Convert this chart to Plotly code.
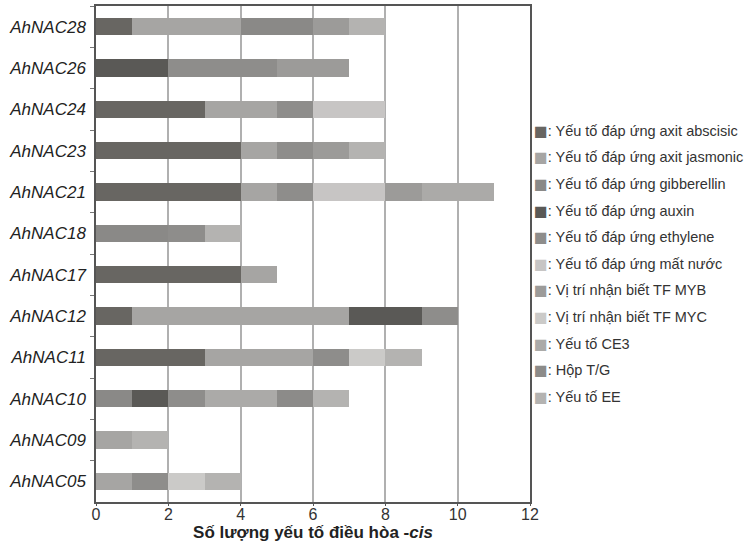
import plotly.graph_objects as go

genes = ["AhNAC28", "AhNAC26", "AhNAC24", "AhNAC23", "AhNAC21", "AhNAC18",
         "AhNAC17", "AhNAC12", "AhNAC11", "AhNAC10", "AhNAC09", "AhNAC05"]

categories = [
    "Yếu tố đáp ứng axit abscisic",
    "Yếu tố đáp ứng axit jasmonic",
    "Yếu tố đáp ứng gibberellin",
    "Yếu tố đáp ứng auxin",
    "Yếu tố đáp ứng ethylene",
    "Yếu tố đáp ứng mất nước",
    "Vị trí nhận biết TF MYB",
    "Vị trí nhận biết TF MYC",
    "Yếu tố CE3",
    "Hộp T/G",
    "Yếu tố EE",
]

abscisic    = [1, 0, 3, 4, 4, 0, 4, 1, 3, 0, 0, 0]
jasmonic    = [3, 0, 2, 1, 1, 0, 1, 6, 3, 0, 1, 1]
gibberellin = [2, 0, 0, 0, 0, 2, 0, 0, 0, 1, 0, 0]
auxin       = [0, 2, 0, 0, 0, 0, 0, 2, 0, 1, 0, 0]
ethylene    = [0, 3, 1, 1, 1, 1, 0, 1, 1, 1, 0, 1]
drought     = [0, 0, 2, 0, 2, 0, 0, 0, 0, 0, 0, 0]
myb         = [1, 2, 0, 1, 1, 0, 0, 0, 0, 0, 0, 0]
myc         = [0, 0, 0, 0, 0, 0, 0, 0, 1, 0, 0, 1]
ce3         = [0, 0, 0, 0, 2, 0, 0, 0, 0, 2, 0, 0]
tg_box      = [0, 0, 0, 0, 0, 0, 0, 0, 0, 1, 0, 0]
ee          = [1, 0, 0, 1, 0, 1, 0, 0, 1, 1, 1, 1]

series = [abscisic, jasmonic, gibberellin, auxin, ethylene, drought,
          myb, myc, ce3, tg_box, ee]
colors = ["#686662", "#a6a5a3", "#8a8987", "#5a5956", "#8e8d8b", "#c7c5c4",
          "#9c9b99", "#cbcac8", "#abaaa8", "#8c8b89", "#b4b3b1"]

fig = go.Figure()
for i, (name, vals, col) in enumerate(zip(categories, series, colors)):
    fig.add_trace(go.Bar(
        y=genes, x=vals, name=name, orientation="h",
        marker=dict(color=col, line=dict(width=0)),
        legendgroup=f"g{i}", showlegend=False,
    ))
    # legend entry: coloured square glyph + text (symbol itself hidden)
    fig.add_trace(go.Scatter(
        x=[None], y=[None], mode="markers",
        marker=dict(color="rgba(0,0,0,0)", size=1,
                    line=dict(width=0, color="rgba(0,0,0,0)")),
        name=(f"<span style='color:{col};font-family:DejaVu Sans'>■</span>"
              f"<span style='color:#333'>: {name}</span>"),
        legendgroup=f"g{i}", showlegend=True, hoverinfo="skip",
    ))

fig.update_layout(
    barmode="stack",
    bargap=0.58,
    width=755, height=542,
    margin=dict(l=96, r=225, t=6, b=40, autoexpand=False),
    plot_bgcolor="white", paper_bgcolor="white",
    font=dict(family="Liberation Sans, Arial, sans-serif", color="#222"),
    showlegend=True,
    legend=dict(
        x=(494 - 96) / 434, y=1 - (114 - 6) / 496, xanchor="left", yanchor="top",
        traceorder="grouped", tracegroupgap=4.8,
        font=dict(size=14.5, color="#333"),
        itemwidth=30,
        bgcolor="rgba(0,0,0,0)",
    ),
    xaxis=dict(
        range=[0, 12], tickvals=[0, 2, 4, 6, 8, 10, 12],
        showgrid=True, gridcolor="#b0b0b0", gridwidth=1.5,
        showline=True, mirror=True, linecolor="#555", linewidth=2,
        ticks="outside", ticklen=2, tickcolor="#555",
        ticklabelstandoff=-5,
        tickfont=dict(size=16, color="#333"),
        title=dict(text="<b>Số lượng yếu tố điều hòa -<i>cis</i></b>",
                   font=dict(size=17, color="#222"), standoff=3),
        zeroline=False, automargin=False,
    ),
    yaxis=dict(
        autorange="reversed",
        showline=True, mirror=True, linecolor="#555", linewidth=2,
        ticks="outside", ticklen=4, tickcolor="#777", tickson="boundaries",
        tickfont=dict(size=17, color="#222", style="italic"),
        ticksuffix=" ",
        showgrid=False, automargin=False,
    ),
)

fig.write_html(
    "out.html",
    config={"displayModeBar": False},
    post_script="document.body.style.margin='0px';document.body.style.padding='0px';",
)
